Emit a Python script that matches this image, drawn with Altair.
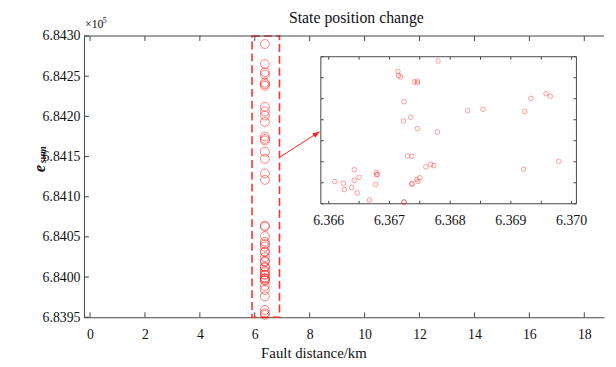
import altair as alt
import pandas as pd

# ---- data (values in units of 1e5) ----
pts_x = [6.36780, 6.36714, 6.36715, 6.36718, 6.36741, 6.36746, 6.36746, 6.36958, 6.36965, 6.36933,
         6.36724, 6.36829, 6.36854, 6.36923, 6.36735, 6.36723, 6.36746, 6.36779, 6.36730, 6.36737,
         6.36979, 6.36768, 6.36773, 6.36760, 6.36642, 6.36921, 6.36678, 6.36680, 6.36679, 6.36650,
         6.36642, 6.36610, 6.36624, 6.36750, 6.36745, 6.36747, 6.36737, 6.36737, 6.36677, 6.36638,
         6.36626, 6.36647, 6.36667, 6.36724, 6.36724]
pts_y = [6.84290, 6.84265, 6.84255, 6.84252, 6.84240, 6.84242, 6.84238, 6.84212, 6.84206, 6.84201,
         6.84193, 6.84172, 6.84175, 6.84170, 6.84156, 6.84147, 6.84129, 6.84121, 6.84064, 6.84063,
         6.84051, 6.84044, 6.84041, 6.84038, 6.84031, 6.84032, 6.84025, 6.84020, 6.84019, 6.84013,
         6.84006, 6.84003, 6.83999, 6.84012, 6.84008, 6.84003, 6.83998, 6.83996, 6.83996, 6.83989,
         6.83984, 6.83976, 6.83959, 6.83955, 6.83953]

main_xlim = [-0.22, 18.72]
main_ylim = [6.8395, 6.8430]
main_xticks = [0, 2, 4, 6, 8, 10, 12, 14, 16, 18]
main_yticks = [6.8395, 6.8400, 6.8405, 6.8410, 6.8415, 6.8420, 6.8425, 6.8430]
box_x = [5.9, 6.9]
arrow_x = [6.9, 8.36]
arrow_y = [6.84149, 6.84181]

inset_xlim = [6.36587, 6.37008]
inset_ylim = [6.8395, 6.8430]
inset_xticks = [6.366, 6.3665, 6.367, 6.3675, 6.368, 6.3685, 6.369, 6.3695, 6.370]
inset_xlabels = [6.366, 6.367, 6.368, 6.369, 6.370]
inset_xlabel_text = ["6.366", "6.367", "6.368", "6.369", "6.370"]
inset_yticks = main_yticks

W, H = 527, 285
INSET_XR = [240, 499]
INSET_YR = [170, 21]

FONT = "Liberation Serif"
AX = "#444444"
RED = "#ff0000"

XS = alt.Scale(domain=main_xlim, nice=False, zero=False)
YS = alt.Scale(domain=main_ylim, nice=False, zero=False)
XAX = alt.Axis(values=main_xticks, ticks=False, domainColor=AX, domainWidth=1, grid=False,
               labelFont=FONT, labelFontSize=14, labelColor="#111111", labelPadding=11,
               labelFlush=False, labelOverlap=False, format="d")
YAX = alt.Axis(values=main_yticks, ticks=False, domainColor=AX, domainWidth=1, grid=False,
               labelFont=FONT, labelFontSize=14, labelColor="#111111", labelPadding=4,
               labelFlush=False, labelOverlap=False, format=".4f")


def MX(f):
    return alt.X(f, type="quantitative", scale=XS, axis=XAX, title=None)


def MY(f):
    return alt.Y(f, type="quantitative", scale=YS, axis=YAX, title=None)


IXS = alt.Scale(domain=inset_xlim, range=INSET_XR, nice=False, zero=False)
IYS = alt.Scale(domain=inset_ylim, range=INSET_YR, nice=False, zero=False)


def IX(f):
    return alt.X(f, type="quantitative", scale=IXS, axis=None)


def IY(f):
    return alt.Y(f, type="quantitative", scale=IYS, axis=None)


df_pts = pd.DataFrame({"x": pts_x, "y": pts_y})
df_box = pd.DataFrame({"x0": [box_x[0]], "x1": [box_x[1]], "y0": [main_ylim[0]], "y1": [main_ylim[1]]})
df_arrow = pd.DataFrame({"x0": [arrow_x[0]], "x1": [arrow_x[1]], "y0": [arrow_y[0]], "y1": [arrow_y[1]]})
df_head = pd.DataFrame({"x": [arrow_x[1]], "y": [arrow_y[1]]})
df_mxt = pd.DataFrame({"t": main_xticks})
df_myt = pd.DataFrame({"t": main_yticks})
dummy = pd.DataFrame({"a": [0]})

# ---- main panel ----
box = alt.Chart(df_box).mark_rect(fillOpacity=0, stroke="#ff3030", strokeWidth=1.6,
                                  strokeDash=[8, 4]).encode(
    x=MX("x0"), x2="x1", y=MY("y0"), y2="y1")
circles = alt.Chart(df_pts).mark_point(shape="circle", size=81, filled=False, stroke=RED,
                                       strokeWidth=1, strokeOpacity=0.7).encode(
    x=MX("x"), y=MY("y"))
arrow = alt.Chart(df_arrow).mark_rule(color="#ff2020", strokeWidth=1).encode(
    x=MX("x0"), x2="x1", y=MY("y0"), y2="y1")
head = alt.Chart(df_head).mark_point(shape="M0,0L-2,-0.75L-2,0.75Z", size=49, filled=True,
                                     fill="#ff2020", fillOpacity=1, strokeWidth=0,
                                     angle=326).encode(x=MX("x"), y=MY("y"))
xt_bot = alt.Chart(df_mxt).mark_rule(color=AX, strokeWidth=1).encode(
    x=MX("t"), y=alt.value(H), y2=alt.value(H - 5))
xt_top = alt.Chart(df_mxt).mark_rule(color=AX, strokeWidth=1).encode(
    x=MX("t"), y=alt.value(0), y2=alt.value(5))
yt_left = alt.Chart(df_myt).mark_rule(color=AX, strokeWidth=1).encode(
    y=MY("t"), x=alt.value(0), x2=alt.value(5))
top_line = alt.Chart(dummy).mark_rule(color=AX, strokeWidth=1).encode(
    x=alt.value(0), x2=alt.value(W), y=alt.value(0))

title = alt.Chart(dummy).mark_text(text="State position change", font=FONT, fontSize=16,
                                   align="center", baseline="alphabetic", color="#111111").encode(
    x=alt.value(276), y=alt.value(-13))
xlabel = alt.Chart(dummy).mark_text(text="Fault distance/km", font=FONT, fontSize=15,
                                    align="center", baseline="alphabetic", color="#111111").encode(
    x=alt.value(233), y=alt.value(326))
mult = alt.Chart(dummy).mark_text(text="×10", font=FONT, fontSize=12, align="left",
                                  baseline="alphabetic", color="#111111").encode(
    x=alt.value(1), y=alt.value(-8))
mult5 = alt.Chart(dummy).mark_text(text="5", font=FONT, fontSize=8, align="left",
                                   baseline="alphabetic", color="#111111").encode(
    x=alt.value(19), y=alt.value(-13))
ylab_e = alt.Chart(dummy).mark_text(text="e", font=FONT, fontSize=17, fontStyle="italic",
                                    fontWeight="bold", align="left", baseline="middle",
                                    angle=270, color="#111111").encode(
    x=alt.value(-45), y=alt.value(138))
ylab_s = alt.Chart(dummy).mark_text(text="sum", font=FONT, fontSize=10, fontStyle="italic",
                                    fontWeight="bold", align="left", baseline="middle",
                                    angle=270, color="#111111").encode(
    x=alt.value(-41), y=alt.value(129))

main = alt.layer(box, circles, arrow, head, xt_bot, xt_top, yt_left, top_line,
                 title, xlabel, mult, mult5, ylab_e, ylab_s)

# ---- inset panel ----
df_frame = pd.DataFrame({"x0": [inset_xlim[0]], "x1": [inset_xlim[1]],
                         "y0": [inset_ylim[0]], "y1": [inset_ylim[1]]})
df_ixt = pd.DataFrame({"t": inset_xticks, "lo": inset_ylim[0], "hi": inset_ylim[1]})
df_iyt = pd.DataFrame({"t": inset_yticks, "lo": inset_xlim[0], "hi": inset_xlim[1]})
df_ilab = pd.DataFrame({"v": inset_xlabels, "s": inset_xlabel_text, "lo": inset_ylim[0]})

frame = alt.Chart(df_frame).mark_rect(fill="white", stroke=AX, strokeWidth=1).encode(
    x=IX("x0"), x2="x1", y=IY("y0"), y2="y1")
ixt_b = alt.Chart(df_ixt).mark_rule(color=AX, strokeWidth=1, y2Offset=-3).encode(
    x=IX("t"), y=IY("lo"), y2="lo")
ixt_t = alt.Chart(df_ixt).mark_rule(color=AX, strokeWidth=1, y2Offset=3).encode(
    x=IX("t"), y=IY("hi"), y2="hi")
iyt_l = alt.Chart(df_iyt).mark_rule(color=AX, strokeWidth=1, x2Offset=3).encode(
    y=IY("t"), x=IX("lo"), x2="lo")
iyt_r = alt.Chart(df_iyt).mark_rule(color=AX, strokeWidth=1, x2Offset=-3).encode(
    y=IY("t"), x=IX("hi"), x2="hi")
icircles = alt.Chart(df_pts).mark_point(shape="circle", size=22, filled=False, stroke=RED,
                                        strokeWidth=0.9, strokeOpacity=0.6).encode(
    x=IX("x"), y=IY("y"))
ilabels = alt.Chart(df_ilab).mark_text(font=FONT, fontSize=14, dy=21, align="center",
                                       baseline="alphabetic", color="#111111").encode(
    x=IX("v"), y=IY("lo"), text="s:N")

inset = alt.layer(frame, ixt_b, ixt_t, iyt_l, iyt_r, icircles, ilabels)

chart = alt.layer(main, inset).resolve_scale(x="independent", y="independent").properties(
    width=W, height=H,
    autosize=alt.AutoSizeParams(type="none"),
    padding={"left": 77, "top": 26, "right": 4, "bottom": 47},
).configure_view(strokeOpacity=0)

chart.save("out.html", embed_options={"renderer": "svg", "actions": False})
